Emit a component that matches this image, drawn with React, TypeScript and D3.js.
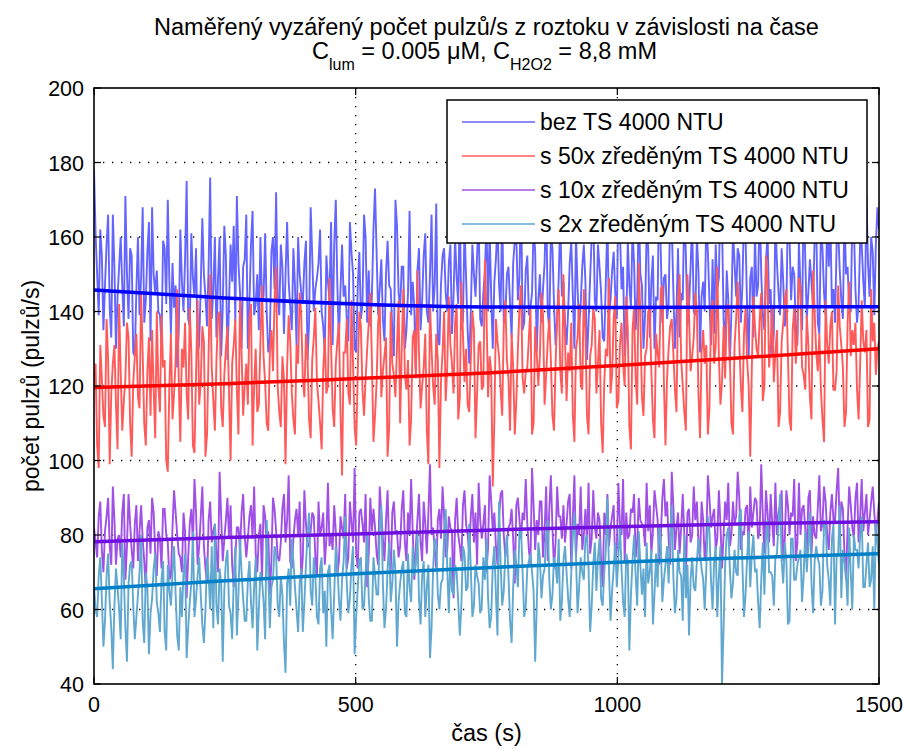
import React from "react";
import * as d3 from "d3";

// chart text
const title1 = "Naměřený vyzářený počet pulzů/s z roztoku v závislosti na čase";
const xLabel = "čas (s)";
const yLabel = "počet pulzů (pulzů/s)";
const xTicks = [0, 500, 1000, 1500];
const yTicks = [40, 60, 80, 100, 120, 140, 160, 180, 200];

// measured samples, one every dt seconds (0 .. 1500 s), 25 per row = 75 s
const dt = 3;

const blueRaw = [
  178, 161, 150, 139, 162, 155, 135, 147, 158, 166, 141, 133, 166, 152, 130, 144, 152, 160, 147, 136, 171, 150, 138, 157, 155,
  129, 128, 146, 160, 139, 149, 168, 137, 143, 156, 164, 132, 168, 150, 145, 151, 140, 139, 131, 159, 157, 142, 170, 148, 134,
  153, 141, 147, 125, 135, 162, 148, 140, 154, 175, 138, 136, 161, 149, 144, 157, 129, 131, 147, 165, 150, 144, 136, 152, 176,
  138, 146, 160, 133, 149, 160, 128, 141, 163, 155, 127, 142, 158, 148, 163, 137, 171, 153, 145, 130, 152, 154, 166, 130, 142,
  158, 167, 139, 142, 150, 135, 160, 143, 144, 161, 140, 129, 133, 156, 160, 146, 172, 144, 139, 158, 152, 134, 150, 164, 148,
  141, 135, 157, 147, 131, 160, 150, 145, 142, 153, 159, 127, 137, 168, 155, 140, 146, 149, 153, 162, 140, 136, 129, 155, 148,
  143, 164, 131, 158, 170, 147, 132, 146, 158, 144, 147, 138, 132, 164, 156, 150, 130, 129, 147, 156, 138, 142, 166, 160, 137,
  151, 136, 144, 162, 173, 156, 139, 146, 154, 138, 132, 150, 159, 147, 146, 135, 128, 170, 163, 145, 141, 152, 152, 130, 135,
  145, 167, 139, 148, 141, 124, 151, 157, 135, 143, 155, 161, 140, 137, 150, 166, 140, 147, 169, 132, 131, 147, 155, 157, 145,
  140, 153, 158, 134, 144, 160, 149, 142, 171, 135, 138, 163, 149, 135, 126, 140, 158, 150, 144, 155, 165, 138, 136, 145, 151,
  164, 140, 162, 144, 130, 148, 154, 164, 147, 140, 168, 137, 139, 150, 152, 142, 133, 153, 159, 160, 143, 149, 174, 135, 137,
  151, 155, 139, 141, 145, 163, 156, 129, 143, 150, 137, 146, 153, 170, 140, 135, 161, 157, 142, 131, 138, 149, 166, 144, 148,
  137, 131, 140, 153, 159, 144, 130, 161, 146, 136, 142, 152, 158, 148, 127, 137, 149, 160, 167, 143, 140, 158, 152, 145, 133,
  132, 148, 164, 139, 143, 151, 156, 145, 138, 171, 162, 146, 152, 128, 135, 159, 147, 141, 162, 153, 135, 144, 168, 150, 147,
  130, 139, 162, 157, 133, 148, 155, 130, 144, 143, 175, 156, 137, 149, 150, 138, 142, 167, 163, 146, 130, 140, 157, 133, 145,
  143, 169, 155, 136, 141, 152, 164, 140, 139, 160, 151, 129, 144, 148, 140, 165, 156, 143, 131, 154, 134, 158, 146, 149, 172,
  164, 138, 130, 151, 143, 126, 140, 162, 153, 144, 157, 155, 137, 147, 166, 160, 141, 128, 149, 152, 133, 161, 144, 147, 170,
  150, 139, 135, 153, 161, 142, 146, 128, 134, 164, 153, 145, 139, 157, 148, 136, 141, 168, 160, 143, 152, 150, 135, 131, 159,
  146, 135, 173, 155, 138, 145, 154, 148, 141, 160, 165, 137, 134, 162, 157, 145, 139, 168, 152, 166, 141, 146, 137, 158, 162,
  151, 143, 138, 167, 150, 152, 141, 140, 165, 163, 146, 137, 142, 159, 158, 148, 141, 171, 153, 144, 160, 156, 139, 158, 168,
  162,
];

const redRaw = [
  119, 126, 104, 98, 131, 122, 112, 109, 138, 127, 99, 118, 126, 131, 115, 103, 142, 124, 108, 116, 122, 137, 133, 110, 101,
  121, 128, 134, 117, 114, 145, 129, 110, 104, 124, 133, 112, 135, 119, 106, 140, 120, 113, 139, 125, 127, 100, 97, 120, 134,
  111, 118, 127, 146, 121, 105, 130, 125, 137, 118, 111, 141, 129, 104, 102, 123, 143, 115, 121, 136, 132, 101, 107, 129, 150,
  125, 116, 108, 127, 139, 140, 114, 109, 123, 130, 136, 118, 100, 126, 131, 138, 119, 107, 144, 129, 112, 120, 126, 115, 138,
  142, 104, 120, 130, 113, 115, 132, 147, 128, 121, 110, 108, 129, 135, 124, 143, 152, 120, 113, 109, 128, 122, 99, 125, 139,
  132, 118, 111, 107, 131, 126, 145, 139, 122, 117, 134, 128, 111, 106, 127, 133, 141, 121, 116, 110, 103, 124, 133, 118, 120,
  149, 131, 114, 109, 126, 132, 137, 113, 96, 129, 129, 138, 118, 115, 143, 126, 109, 104, 124, 140, 136, 119, 112, 122, 130,
  137, 145, 127, 105, 112, 121, 137, 142, 117, 124, 128, 133, 101, 109, 140, 126, 123, 117, 131, 143, 110, 130, 146, 123, 119,
  127, 104, 111, 133, 135, 122, 151, 129, 114, 120, 125, 134, 108, 99, 142, 130, 120, 115, 134, 127, 98, 121, 129, 140, 116,
  125, 144, 131, 126, 118, 137, 142, 111, 117, 148, 134, 121, 130, 115, 113, 127, 140, 135, 106, 118, 131, 132, 119, 120, 154,
  139, 117, 128, 124, 93, 111, 138, 132, 128, 119, 112, 136, 143, 127, 122, 108, 134, 125, 107, 116, 130, 141, 147, 122, 118,
  124, 125, 133, 141, 107, 110, 136, 129, 120, 128, 145, 139, 115, 123, 132, 138, 127, 112, 108, 126, 139, 146, 124, 118, 150,
  133, 116, 129, 124, 137, 112, 105, 130, 133, 142, 121, 119, 146, 135, 112, 107, 128, 131, 141, 138, 118, 126, 135, 110, 102,
  121, 130, 128, 149, 118, 123, 138, 144, 114, 116, 131, 137, 126, 120, 144, 135, 109, 103, 135, 141, 122, 115, 153, 139, 117,
  112, 128, 130, 140, 141, 124, 111, 106, 134, 129, 125, 146, 147, 121, 104, 122, 130, 136, 138, 129, 119, 113, 143, 150, 127,
  120, 113, 108, 150, 139, 124, 128, 133, 145, 140, 118, 106, 129, 135, 126, 131, 107, 114, 139, 143, 126, 131, 152, 128, 115,
  121, 136, 122, 140, 142, 128, 110, 107, 131, 138, 148, 132, 120, 113, 134, 141, 127, 120, 101, 125, 144, 136, 130, 128, 138,
  145, 116, 120, 155, 148, 125, 131, 141, 121, 129, 135, 109, 113, 132, 137, 143, 146, 128, 111, 108, 135, 141, 126, 134, 149,
  146, 125, 123, 119, 139, 131, 117, 111, 151, 140, 129, 124, 134, 119, 111, 105, 143, 131, 126, 136, 140, 119, 119, 124, 147,
  136, 131, 125, 109, 113, 137, 148, 128, 135, 131, 137, 119, 111, 126, 143, 132, 129, 135, 109, 111, 146, 132, 137, 123, 130,
  132,
];

const purpleRaw = [
  82, 78, 74, 85, 89, 76, 70, 81, 85, 90, 77, 72, 93, 84, 72, 79, 80, 74, 86, 91, 68, 77, 91, 83, 76,
  71, 83, 88, 73, 81, 88, 79, 73, 65, 82, 84, 75, 90, 86, 75, 69, 81, 79, 71, 87, 87, 80, 78, 68, 69,
  82, 92, 86, 80, 75, 74, 70, 86, 81, 63, 74, 83, 87, 78, 95, 86, 72, 77, 85, 93, 77, 71, 67, 84, 89,
  78, 81, 83, 75, 70, 97, 85, 73, 79, 84, 90, 79, 88, 72, 66, 74, 82, 82, 76, 86, 91, 80, 74, 79, 85,
  88, 79, 93, 75, 70, 80, 83, 68, 88, 85, 76, 81, 64, 73, 90, 87, 81, 74, 73, 78, 87, 91, 78, 84, 96,
  73, 71, 79, 84, 87, 80, 89, 68, 74, 92, 83, 77, 77, 81, 86, 85, 74, 69, 89, 80, 82, 86, 72, 79, 94,
  77, 80, 76, 88, 81, 69, 73, 85, 82, 79, 91, 71, 74, 89, 83, 78, 98, 75, 71, 86, 87, 83, 78, 91, 66,
  75, 90, 81, 87, 82, 75, 72, 93, 86, 79, 73, 84, 92, 76, 70, 86, 89, 81, 81, 74, 77, 87, 92, 78, 73,
  86, 80, 95, 81, 68, 77, 84, 91, 78, 73, 89, 83, 75, 86, 99, 80, 82, 76, 71, 84, 87, 79, 93, 85, 74,
  76, 85, 82, 81, 63, 84, 90, 80, 77, 73, 88, 92, 83, 80, 75, 85, 91, 78, 86, 72, 94, 84, 79, 83, 88,
  70, 77, 96, 89, 81, 86, 77, 72, 85, 91, 92, 80, 74, 78, 82, 83, 87, 79, 67, 88, 90, 84, 79, 86, 84,
  95, 83, 76, 72, 98, 88, 76, 84, 80, 89, 89, 74, 81, 93, 73, 87, 96, 82, 71, 78, 93, 85, 85, 79, 88,
  78, 83, 89, 91, 71, 85, 96, 74, 83, 80, 93, 76, 80, 87, 78, 94, 75, 79, 92, 82, 79, 86, 84, 73, 66,
  86, 80, 91, 77, 82, 85, 88, 72, 76, 94, 83, 80, 95, 73, 86, 79, 80, 87, 86, 91, 74, 78, 90, 84, 83,
  82, 77, 94, 81, 88, 75, 81, 92, 88, 84, 72, 79, 90, 95, 85, 89, 79, 72, 97, 88, 76, 82, 86, 75, 82,
  91, 80, 69, 86, 87, 78, 80, 93, 84, 89, 78, 73, 89, 84, 73, 79, 96, 90, 82, 85, 87, 76, 79, 92, 83,
  71, 80, 89, 84, 94, 77, 80, 89, 83, 85, 97, 90, 76, 81, 80, 87, 88, 75, 93, 82, 86, 90, 89, 79, 81,
  99, 85, 75, 92, 86, 78, 91, 83, 77, 94, 80, 86, 88, 92, 73, 79, 92, 88, 80, 86, 85, 95, 73, 78, 94,
  80, 87, 88, 82, 73, 90, 92, 75, 85, 80, 79, 87, 96, 81, 83, 93, 89, 80, 76, 86, 91, 84, 84, 92, 98,
  81, 89, 87, 75, 68, 82, 93, 88, 82, 79, 90, 94, 78, 85, 95, 81, 86, 91, 80, 84, 89, 93, 86, 80, 84,
  89,
];

const cyanRaw = [
  66, 60, 58, 69, 74, 63, 50, 57, 69, 75, 62, 55, 44, 61, 71, 66, 60, 52, 78, 69, 55, 46, 67, 72, 73,
  61, 52, 58, 64, 70, 80, 57, 51, 70, 66, 48, 59, 63, 71, 75, 62, 59, 54, 68, 73, 54, 49, 72, 65, 61,
  70, 77, 64, 53, 49, 66, 58, 70, 75, 47, 55, 62, 67, 81, 58, 63, 69, 74, 64, 56, 51, 60, 74, 69, 60,
  77, 55, 83, 61, 56, 71, 67, 46, 65, 73, 76, 61, 59, 52, 68, 77, 53, 64, 79, 70, 63, 57, 57, 68, 73,
  62, 55, 66, 74, 49, 60, 70, 68, 62, 52, 84, 70, 55, 66, 68, 77, 75, 61, 58, 69, 64, 51, 43, 67, 71,
  61, 79, 73, 66, 60, 54, 67, 71, 54, 62, 72, 80, 86, 65, 61, 74, 69, 58, 56, 71, 74, 59, 65, 50, 70,
  72, 60, 52, 64, 77, 72, 63, 57, 68, 73, 85, 67, 59, 63, 72, 77, 48, 58, 66, 73, 74, 60, 61, 70, 80,
  63, 57, 57, 74, 69, 64, 64, 82, 88, 67, 55, 60, 71, 78, 62, 67, 76, 70, 50, 62, 67, 71, 73, 59, 58,
  75, 66, 62, 77, 69, 72, 81, 63, 56, 69, 73, 58, 66, 72, 47, 55, 71, 79, 78, 64, 60, 67, 68, 80, 87,
  71, 59, 74, 65, 64, 72, 70, 62, 53, 61, 77, 75, 65, 66, 83, 71, 58, 61, 72, 69, 67, 59, 61, 74, 68,
  79, 63, 55, 58, 72, 77, 64, 53, 89, 72, 61, 65, 75, 80, 69, 57, 51, 66, 76, 72, 66, 81, 82, 70, 58,
  61, 71, 73, 75, 70, 65, 46, 61, 78, 74, 63, 69, 71, 80, 84, 68, 60, 64, 74, 72, 67, 79, 57, 62, 73,
  77, 70, 63, 58, 70, 80, 86, 74, 59, 66, 74, 70, 68, 79, 80, 71, 54, 61, 72, 78, 65, 74, 79, 63, 61,
  70, 76, 90, 71, 57, 65, 71, 78, 66, 74, 83, 71, 62, 58, 75, 73, 49, 64, 73, 80, 69, 61, 81, 72, 64,
  71, 58, 78, 67, 70, 76, 56, 64, 75, 66, 83, 78, 62, 68, 72, 77, 67, 80, 88, 69, 59, 63, 76, 70, 69,
  57, 80, 63, 72, 53, 68, 74, 66, 65, 73, 79, 75, 71, 68, 60, 71, 85, 81, 68, 60, 73, 77, 58, 69, 77,
  40, 55, 72, 80, 82, 71, 63, 67, 76, 70, 69, 85, 87, 72, 58, 64, 74, 81, 66, 75, 80, 70, 71, 62, 55,
  68, 78, 64, 79, 84, 70, 70, 69, 61, 74, 75, 83, 91, 73, 67, 78, 73, 56, 57, 79, 79, 68, 68, 72, 74,
  76, 62, 69, 81, 70, 77, 86, 67, 59, 73, 77, 74, 72, 61, 65, 84, 83, 72, 68, 61, 79, 83, 56, 74, 75,
  88, 63, 76, 73, 69, 61, 82, 70, 60, 80, 76, 76, 71, 80, 85, 66, 66, 72, 78, 66, 68, 77, 60, 84, 78,
  72,
];

// fitted trends
const fitTimes = [0, 250, 500, 750, 1000, 1250, 1500];
const blueFit = [145.8, 143.6, 142.0, 141.2, 141.1, 141.2, 141.3];
const redFit = [119.6, 120.6, 122.0, 123.5, 125.5, 127.7, 130.0];
const purpleFit = [78.2, 79.3, 80.3, 81.3, 82.2, 83.0, 83.6];
const cyanFit = [65.6, 67.7, 69.6, 71.2, 72.7, 73.9, 75.0];

const seriesNames = [
  "bez TS 4000 NTU",
  "s 50x zředěným TS 4000 NTU",
  "s 10x zředěným TS 4000 NTU",
  "s 2x zředěným TS 4000 NTU",
];

const series = [
  { name: seriesNames[0], raw: blueRaw, fit: blueFit, rawColor: "#6464ff", fitColor: "#0000ff" },
  { name: seriesNames[1], raw: redRaw, fit: redFit, rawColor: "#ff5a5a", fitColor: "#ff0000" },
  { name: seriesNames[2], raw: purpleRaw, fit: purpleFit, rawColor: "#a050e6", fitColor: "#7010e0" },
  { name: seriesNames[3], raw: cyanRaw, fit: cyanFit, rawColor: "#60a8d0", fitColor: "#0080c8" },
];

const width = 903;
const height = 749;
const margin = { top: 88, right: 24, bottom: 65, left: 94 };
const font = "'Liberation Sans', Arial, Helvetica, sans-serif";

export default function App() {
  const x = d3.scaleLinear().domain([0, 1500]).range([margin.left, width - margin.right]);
  const y = d3.scaleLinear().domain([40, 200]).range([height - margin.bottom, margin.top]);

  const rawLine = d3.line<number>()
    .x((_, i) => x(i * dt))
    .y(d => y(d));
  const fitLine = d3.line<number>()
    .x((_, i) => x(fitTimes[i]))
    .y(d => y(d))
    .curve(d3.curveMonotoneX);

  const x0 = x.range()[0], x1 = x.range()[1];
  const y0 = y.range()[1], y1 = y.range()[0];
  const tick = 7;
  const cx = (x0 + x1) / 2;
  const cy = (y0 + y1) / 2;

  // legend
  const lg = { x: 447, y: 100, w: 420, h: 143, row0: 122, step: 34 };

  return (
    <svg width={width} height={height} style={{ position: "absolute", left: 0, top: 0, background: "#fff" }}
      fontFamily={font}>
      <defs>
        <clipPath id="plot">
          <rect x={x0} y={y0} width={x1 - x0} height={y1 - y0} />
        </clipPath>
      </defs>
      <rect x={0} y={0} width={width} height={height} fill="#fff" />

      {/* grid */}
      <g stroke="#000" strokeWidth={1.3} strokeDasharray="1.3 7.7">
        {xTicks.slice(1, -1).map(t => (
          <line key={"gx" + t} x1={x(t)} x2={x(t)} y1={y0} y2={y1} />
        ))}
        {yTicks.slice(1, -1).map(t => (
          <line key={"gy" + t} x1={x0} x2={x1} y1={y(t)} y2={y(t)} />
        ))}
      </g>

      {/* raw signals, then fitted trends */}
      <g clipPath="url(#plot)" fill="none">
        {series.map(s => (
          <path key={"r" + s.name} d={rawLine(s.raw) || ""} stroke={s.rawColor} strokeWidth={1.9} />
        ))}
        {series.map(s => (
          <path key={"f" + s.name} d={fitLine(s.fit) || ""} stroke={s.fitColor} strokeWidth={3.5} />
        ))}
      </g>

      {/* ticks */}
      <g stroke="#000" strokeWidth={1.2}>
        {xTicks.map(t => (
          <g key={"tx" + t}>
            <line x1={x(t)} x2={x(t)} y1={y1} y2={y1 - tick} />
            <line x1={x(t)} x2={x(t)} y1={y0} y2={y0 + tick} />
          </g>
        ))}
        {yTicks.map(t => (
          <g key={"ty" + t}>
            <line x1={x0} x2={x0 + tick} y1={y(t)} y2={y(t)} />
            <line x1={x1} x2={x1 - tick} y1={y(t)} y2={y(t)} />
          </g>
        ))}
      </g>
      <rect x={x0} y={y0} width={x1 - x0} height={y1 - y0} fill="none" stroke="#000" strokeWidth={1.6} />

      {/* tick labels */}
      <g fontSize={21.5} fill="#000">
        {xTicks.map(t => (
          <text key={"lx" + t} x={x(t)} y={y1 + 28} textAnchor="middle">{t}</text>
        ))}
        {yTicks.map(t => (
          <text key={"ly" + t} x={x0 - 10} y={y(t) + 8} textAnchor="end">{t}</text>
        ))}
      </g>

      {/* axis labels */}
      <text x={cx} y={741} fontSize={23.5} textAnchor="middle">{xLabel}</text>
      <text transform={`translate(39,${cy}) rotate(-90)`} fontSize={23} textAnchor="middle">{yLabel}</text>

      {/* title */}
      <text x={cx} y={35} fontSize={23.5} textAnchor="middle">{title1}</text>
      <text x={cx - 2} y={59} fontSize={23.5} textAnchor="middle">
        C<tspan fontSize={16} dy={11}>lum</tspan>
        <tspan dy={-11}> = 0.005 μM, C</tspan>
        <tspan fontSize={16} dy={11}>H2O2</tspan>
        <tspan dy={-11}> = 8,8 mM</tspan>
      </text>

      {/* legend */}
      <rect x={lg.x} y={lg.y} width={lg.w} height={lg.h} fill="#fff" stroke="#000" strokeWidth={1.5} />
      {series.map((s, i) => (
        <g key={"lg" + s.name}>
          <line x1={lg.x + 15} x2={lg.x + 88} y1={lg.row0 + i * lg.step} y2={lg.row0 + i * lg.step}
            stroke={s.rawColor} strokeWidth={1.6} />
          <text x={lg.x + 93} y={lg.row0 + i * lg.step + 8} fontSize={23}>{s.name}</text>
        </g>
      ))}
    </svg>
  );
}
